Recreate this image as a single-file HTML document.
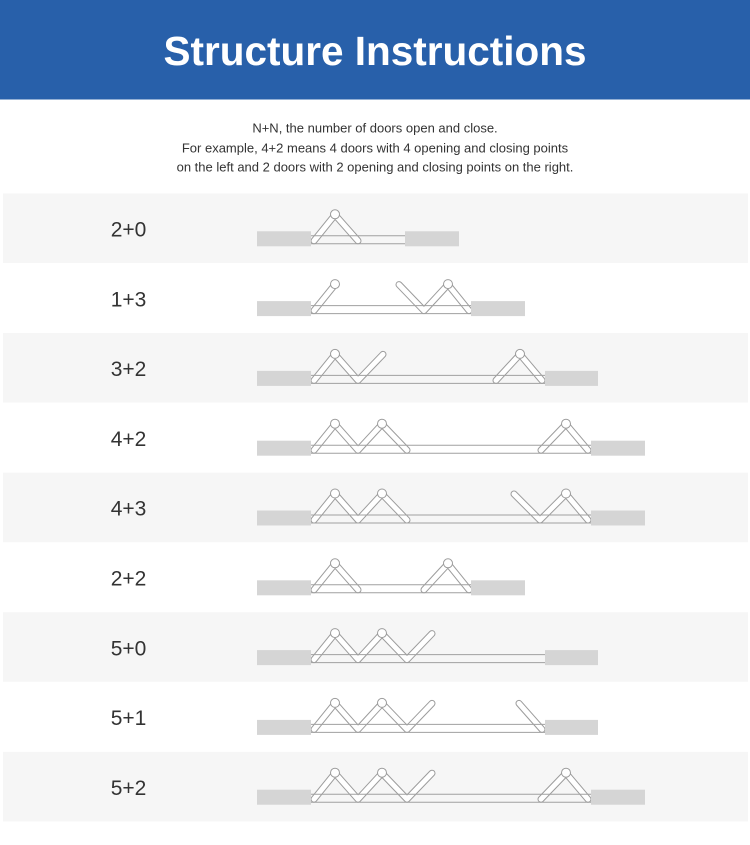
<!DOCTYPE html>
<html>
<head>
<meta charset="utf-8">
<style>
html,body{margin:0;padding:0;background:#fff;}
body{width:750px;height:845px;overflow:hidden;}
svg{display:block;}
</style>
</head>
<body>
<svg width="750" height="845" viewBox="0 0 750 845" xmlns="http://www.w3.org/2000/svg">
  <defs>
    <g id="L5">
      <polyline points="314,2 335,-24 358,2 382,-24 407,2 432,-24" fill="none" stroke="#9c9c9c" stroke-width="7" stroke-linecap="round" stroke-linejoin="round"/>
      <polyline points="314,2 335,-24 358,2 382,-24 407,2 432,-24" fill="none" stroke="#fff" stroke-width="5" stroke-linecap="round" stroke-linejoin="round"/>
    </g>
    <g id="L4">
      <polyline points="314,2 335,-24 358,2 382,-24 407,2" fill="none" stroke="#9c9c9c" stroke-width="7" stroke-linecap="round" stroke-linejoin="round"/>
      <polyline points="314,2 335,-24 358,2 382,-24 407,2" fill="none" stroke="#fff" stroke-width="5" stroke-linecap="round" stroke-linejoin="round"/>
    </g>
  </defs>

  <!-- header -->
  <rect x="0" y="0" width="750" height="99.5" fill="#2860aa"/>
  <text x="375" y="65" text-anchor="middle" font-family="Liberation Sans, Arial, sans-serif" font-weight="bold" font-size="40.5" fill="#ffffff">Structure Instructions</text>

  <!-- subtitle -->
  <g font-family="Liberation Sans, Arial, sans-serif" font-size="13" fill="#333" text-anchor="middle">
    <text x="375" y="132.5">N+N, the number of doors open and close.</text>
    <text x="375" y="152.5">For example, 4+2 means 4 doors with 4 opening and closing points</text>
    <text x="375" y="171.5">on the left and 2 doors with 2 opening and closing points on the right.</text>
  </g>

  <!-- bands -->
  <g fill="#f6f6f6">
    <rect x="3" y="193.5" width="745" height="69.5"/>
    <rect x="3" y="333.1" width="745" height="69.5"/>
    <rect x="3" y="472.7" width="745" height="69.5"/>
    <rect x="3" y="612.3" width="745" height="69.5"/>
    <rect x="3" y="751.9" width="745" height="69.5"/>
  </g>

  <!-- labels -->
  <g font-family="Liberation Sans, Arial, sans-serif" font-size="21" fill="#333" text-anchor="middle">
    <text x="128.5" y="236.5">2+0</text>
    <text x="128.5" y="306.3">1+3</text>
    <text x="128.5" y="376.1">3+2</text>
    <text x="128.5" y="445.9">4+2</text>
    <text x="128.5" y="515.7">4+3</text>
    <text x="128.5" y="585.5">2+2</text>
    <text x="128.5" y="655.3">5+0</text>
    <text x="128.5" y="725.1">5+1</text>
    <text x="128.5" y="794.9">5+2</text>
  </g>

  <!-- Row 0: 2+0 -->
  <g transform="translate(0,238.8)">
    <polyline points="314,2 335,-24 358,2" fill="none" stroke="#9c9c9c" stroke-width="7" stroke-linecap="round" stroke-linejoin="round"/>
    <polyline points="314,2 335,-24 358,2" fill="none" stroke="#fff" stroke-width="5" stroke-linecap="round" stroke-linejoin="round"/>
    <line x1="311" y1="-3" x2="405" y2="-3" stroke="#a0a0a0" stroke-width="1"/>
    <line x1="311" y1="5" x2="405" y2="5" stroke="#a0a0a0" stroke-width="1"/>
    <rect x="257" y="-7.5" width="54" height="15" fill="#d5d5d5"/>
    <rect x="405" y="-7.5" width="54" height="15" fill="#d5d5d5"/>
    <circle cx="335" cy="-24.5" r="4.5" fill="#fff" stroke="#9c9c9c"/>
  </g>

  <!-- Row 1: 1+3 -->
  <g transform="translate(0,308.6)">
    <polyline points="314,2 335,-24" fill="none" stroke="#9c9c9c" stroke-width="7" stroke-linecap="round"/>
    <polyline points="314,2 335,-24" fill="none" stroke="#fff" stroke-width="5" stroke-linecap="round"/>
    <polyline points="399,-24 424,2 448,-24 469,2" fill="none" stroke="#9c9c9c" stroke-width="7" stroke-linecap="round" stroke-linejoin="round"/>
    <polyline points="399,-24 424,2 448,-24 469,2" fill="none" stroke="#fff" stroke-width="5" stroke-linecap="round" stroke-linejoin="round"/>
    <line x1="311" y1="-3" x2="471" y2="-3" stroke="#a0a0a0"/>
    <line x1="311" y1="5" x2="471" y2="5" stroke="#a0a0a0"/>
    <rect x="257" y="-7.5" width="54" height="15" fill="#d5d5d5"/>
    <rect x="471" y="-7.5" width="54" height="15" fill="#d5d5d5"/>
    <circle cx="335" cy="-24.5" r="4.5" fill="#fff" stroke="#9c9c9c"/>
    <circle cx="448" cy="-24.5" r="4.5" fill="#fff" stroke="#9c9c9c"/>
  </g>

  <!-- Row 2: 3+2 -->
  <g transform="translate(0,378.4)">
    <polyline points="314,2 335,-24 358,2 383,-24" fill="none" stroke="#9c9c9c" stroke-width="7" stroke-linecap="round" stroke-linejoin="round"/>
    <polyline points="314,2 335,-24 358,2 383,-24" fill="none" stroke="#fff" stroke-width="5" stroke-linecap="round" stroke-linejoin="round"/>
    <polyline points="496,2 520,-24 542,2" fill="none" stroke="#9c9c9c" stroke-width="7" stroke-linecap="round" stroke-linejoin="round"/>
    <polyline points="496,2 520,-24 542,2" fill="none" stroke="#fff" stroke-width="5" stroke-linecap="round" stroke-linejoin="round"/>
    <line x1="311" y1="-3" x2="545" y2="-3" stroke="#a0a0a0"/>
    <line x1="311" y1="5" x2="545" y2="5" stroke="#a0a0a0"/>
    <rect x="257" y="-7.5" width="54" height="15" fill="#d5d5d5"/>
    <rect x="545" y="-7.5" width="53" height="15" fill="#d5d5d5"/>
    <circle cx="335" cy="-24.5" r="4.5" fill="#fff" stroke="#9c9c9c"/>
    <circle cx="520" cy="-24.5" r="4.5" fill="#fff" stroke="#9c9c9c"/>
  </g>

  <!-- Row 3: 4+2 -->
  <g transform="translate(0,448.2)">
    <use href="#L4"/>
    <polyline points="541,2 566,-24 588,2" fill="none" stroke="#9c9c9c" stroke-width="7" stroke-linecap="round" stroke-linejoin="round"/>
    <polyline points="541,2 566,-24 588,2" fill="none" stroke="#fff" stroke-width="5" stroke-linecap="round" stroke-linejoin="round"/>
    <line x1="311" y1="-3" x2="591" y2="-3" stroke="#a0a0a0"/>
    <line x1="311" y1="5" x2="591" y2="5" stroke="#a0a0a0"/>
    <rect x="257" y="-7.5" width="54" height="15" fill="#d5d5d5"/>
    <rect x="591" y="-7.5" width="54" height="15" fill="#d5d5d5"/>
    <circle cx="335" cy="-24.5" r="4.5" fill="#fff" stroke="#9c9c9c"/>
    <circle cx="382" cy="-24.5" r="4.5" fill="#fff" stroke="#9c9c9c"/>
    <circle cx="566" cy="-24.5" r="4.5" fill="#fff" stroke="#9c9c9c"/>
  </g>

  <!-- Row 4: 4+3 -->
  <g transform="translate(0,518)">
    <use href="#L4"/>
    <polyline points="514,-24 540,2 566,-24 588,2" fill="none" stroke="#9c9c9c" stroke-width="7" stroke-linecap="round" stroke-linejoin="round"/>
    <polyline points="514,-24 540,2 566,-24 588,2" fill="none" stroke="#fff" stroke-width="5" stroke-linecap="round" stroke-linejoin="round"/>
    <line x1="311" y1="-3" x2="591" y2="-3" stroke="#a0a0a0"/>
    <line x1="311" y1="5" x2="591" y2="5" stroke="#a0a0a0"/>
    <rect x="257" y="-7.5" width="54" height="15" fill="#d5d5d5"/>
    <rect x="591" y="-7.5" width="54" height="15" fill="#d5d5d5"/>
    <circle cx="335" cy="-24.5" r="4.5" fill="#fff" stroke="#9c9c9c"/>
    <circle cx="382" cy="-24.5" r="4.5" fill="#fff" stroke="#9c9c9c"/>
    <circle cx="566" cy="-24.5" r="4.5" fill="#fff" stroke="#9c9c9c"/>
  </g>

  <!-- Row 5: 2+2 -->
  <g transform="translate(0,587.8)">
    <polyline points="314,2 335,-24 358,2" fill="none" stroke="#9c9c9c" stroke-width="7" stroke-linecap="round" stroke-linejoin="round"/>
    <polyline points="314,2 335,-24 358,2" fill="none" stroke="#fff" stroke-width="5" stroke-linecap="round" stroke-linejoin="round"/>
    <polyline points="424,2 448,-24 469,2" fill="none" stroke="#9c9c9c" stroke-width="7" stroke-linecap="round" stroke-linejoin="round"/>
    <polyline points="424,2 448,-24 469,2" fill="none" stroke="#fff" stroke-width="5" stroke-linecap="round" stroke-linejoin="round"/>
    <line x1="311" y1="-3" x2="471" y2="-3" stroke="#a0a0a0"/>
    <line x1="311" y1="5" x2="471" y2="5" stroke="#a0a0a0"/>
    <rect x="257" y="-7.5" width="54" height="15" fill="#d5d5d5"/>
    <rect x="471" y="-7.5" width="54" height="15" fill="#d5d5d5"/>
    <circle cx="335" cy="-24.5" r="4.5" fill="#fff" stroke="#9c9c9c"/>
    <circle cx="448" cy="-24.5" r="4.5" fill="#fff" stroke="#9c9c9c"/>
  </g>

  <!-- Row 6: 5+0 -->
  <g transform="translate(0,657.6)">
    <use href="#L5"/>
    <line x1="311" y1="-3" x2="545" y2="-3" stroke="#a0a0a0"/>
    <line x1="311" y1="5" x2="545" y2="5" stroke="#a0a0a0"/>
    <rect x="257" y="-7.5" width="54" height="15" fill="#d5d5d5"/>
    <rect x="545" y="-7.5" width="53" height="15" fill="#d5d5d5"/>
    <circle cx="335" cy="-24.5" r="4.5" fill="#fff" stroke="#9c9c9c"/>
    <circle cx="382" cy="-24.5" r="4.5" fill="#fff" stroke="#9c9c9c"/>
  </g>

  <!-- Row 7: 5+1 -->
  <g transform="translate(0,727.4)">
    <use href="#L5"/>
    <polyline points="519,-24 542,2" fill="none" stroke="#9c9c9c" stroke-width="7" stroke-linecap="round"/>
    <polyline points="519,-24 542,2" fill="none" stroke="#fff" stroke-width="5" stroke-linecap="round"/>
    <line x1="311" y1="-3" x2="545" y2="-3" stroke="#a0a0a0"/>
    <line x1="311" y1="5" x2="545" y2="5" stroke="#a0a0a0"/>
    <rect x="257" y="-7.5" width="54" height="15" fill="#d5d5d5"/>
    <rect x="545" y="-7.5" width="53" height="15" fill="#d5d5d5"/>
    <circle cx="335" cy="-24.5" r="4.5" fill="#fff" stroke="#9c9c9c"/>
    <circle cx="382" cy="-24.5" r="4.5" fill="#fff" stroke="#9c9c9c"/>
  </g>

  <!-- Row 8: 5+2 -->
  <g transform="translate(0,797.2)">
    <use href="#L5"/>
    <polyline points="541,2 566,-24 588,2" fill="none" stroke="#9c9c9c" stroke-width="7" stroke-linecap="round" stroke-linejoin="round"/>
    <polyline points="541,2 566,-24 588,2" fill="none" stroke="#fff" stroke-width="5" stroke-linecap="round" stroke-linejoin="round"/>
    <line x1="311" y1="-3" x2="591" y2="-3" stroke="#a0a0a0"/>
    <line x1="311" y1="5" x2="591" y2="5" stroke="#a0a0a0"/>
    <rect x="257" y="-7.5" width="54" height="15" fill="#d5d5d5"/>
    <rect x="591" y="-7.5" width="54" height="15" fill="#d5d5d5"/>
    <circle cx="335" cy="-24.5" r="4.5" fill="#fff" stroke="#9c9c9c"/>
    <circle cx="382" cy="-24.5" r="4.5" fill="#fff" stroke="#9c9c9c"/>
    <circle cx="566" cy="-24.5" r="4.5" fill="#fff" stroke="#9c9c9c"/>
  </g>
</svg>
</body>
</html>
